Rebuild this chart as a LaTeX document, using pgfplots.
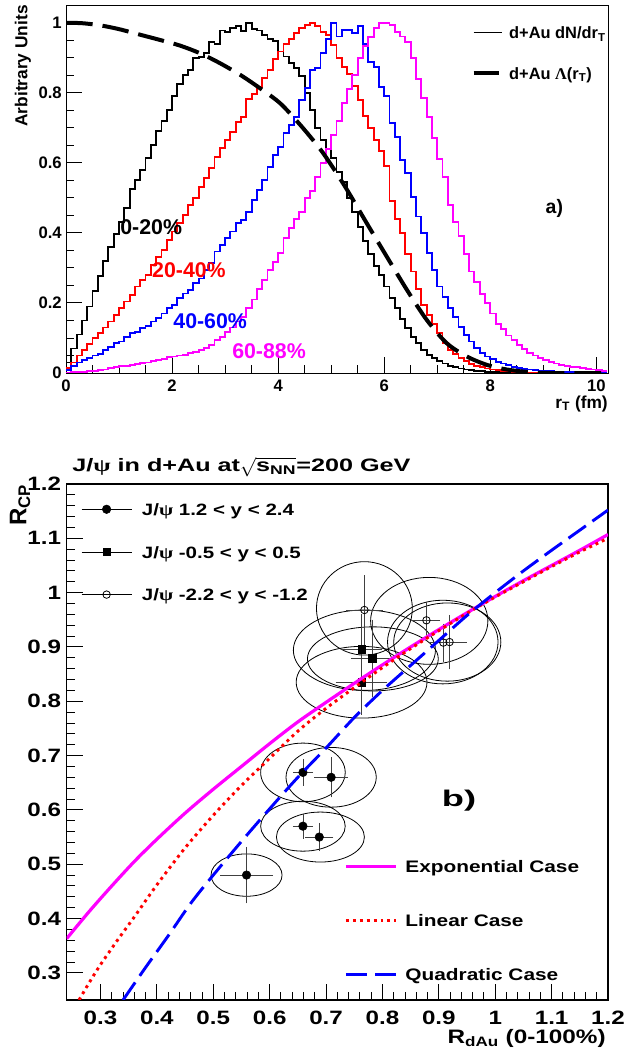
\documentclass[border=0pt]{standalone}
\usepackage{fontspec}
\setmainfont{Liberation Sans}
\newfontfamily\wide{Liberation Sans}[FakeStretch=1.25]
\newfontfamily\wider{Liberation Sans}[FakeStretch=1.4]
\newfontfamily\widest{Liberation Sans}[FakeStretch=1.6]
\newfontfamily\widepsi{Liberation Serif}[FakeStretch=1.25]
\newfontfamily\widerpsi{Liberation Serif}[FakeStretch=1.4]
\usepackage{pgfplots}
\pgfplotsset{compat=1.18}
\usepackage{pgfplotstable}
\definecolor{rmag}{RGB}{255,0,255}
\definecolor{rred}{RGB}{255,0,0}
\definecolor{rblue}{RGB}{0,0,255}

\pgfplotstableread{
x b r bl m
0.0 0.03 0.015 0.008 0.001
0.1 0.07 0.03 0.02 0.002
0.2 0.11 0.05 0.03 0.003
0.3 0.15 0.066 0.038 0.004
0.4 0.19 0.083 0.043 0.005
0.5 0.235 0.1 0.05 0.006
0.6 0.278 0.115 0.055 0.008
0.7 0.32 0.13 0.066 0.01
0.8 0.36 0.147 0.075 0.015
0.9 0.397 0.166 0.085 0.018
1.0 0.432 0.185 0.09 0.02
1.1 0.47 0.204 0.104 0.021
1.2 0.525 0.223 0.113 0.023
1.3 0.55 0.247 0.118 0.025
1.4 0.58 0.266 0.128 0.028
1.5 0.615 0.28 0.135 0.03
1.6 0.65 0.309 0.147 0.033
1.7 0.69 0.332 0.156 0.036
1.8 0.72 0.351 0.17 0.04
1.9 0.75 0.38 0.185 0.045
2.0 0.79 0.404 0.194 0.047
2.1 0.825 0.428 0.213 0.05
2.2 0.85 0.452 0.227 0.052
2.3 0.866 0.48 0.237 0.056
2.4 0.9 0.5 0.256 0.061
2.5 0.902 0.531 0.27 0.065
2.6 0.913 0.556 0.294 0.072
2.7 0.946 0.585 0.315 0.08
2.8 0.94 0.618 0.347 0.095
2.9 0.978 0.642 0.366 0.104
3.0 0.975 0.666 0.385 0.118
3.1 0.985 0.689 0.404 0.13
3.2 0.99 0.718 0.428 0.147
3.3 0.976 0.732 0.437 0.16
3.4 1.0 0.783 0.461 0.185
3.5 0.982 0.797 0.494 0.21
3.6 0.978 0.818 0.523 0.24
3.7 0.966 0.842 0.551 0.266
3.8 0.953 0.866 0.589 0.294
3.9 0.947 0.896 0.623 0.318
4.0 0.918 0.918 0.646 0.342
4.1 0.904 0.94 0.685 0.385
4.2 0.885 0.955 0.708 0.413
4.3 0.87 0.97 0.732 0.44
4.4 0.847 0.985 0.78 0.46
4.5 0.8 0.994 0.813 0.5
4.6 0.75 1.0 0.866 0.52
4.7 0.70 0.99 0.87 0.56
4.8 0.665 0.975 0.913 0.6
4.9 0.64 0.966 0.953 0.64
5.0 0.615 0.937 1.0 0.68
5.1 0.575 0.9 0.961 0.72
5.2 0.545 0.875 0.98 0.77
5.3 0.5 0.855 0.98 0.81
5.4 0.46 0.82 0.97 0.85
5.5 0.418 0.78 0.99 0.9
5.6 0.378 0.735 0.94 0.935
5.7 0.34 0.7 0.889 0.96
5.8 0.305 0.665 0.875 0.985
5.9 0.28 0.635 0.818 1.0
6.0 0.247 0.59 0.79 1.0
6.1 0.215 0.49 0.713 0.994
6.2 0.185 0.44 0.675 0.975
6.3 0.155 0.4 0.609 0.961
6.4 0.128 0.34 0.571 0.945
6.5 0.104 0.29 0.503 0.9
6.6 0.085 0.24 0.447 0.84
6.7 0.066 0.195 0.4 0.785
6.8 0.052 0.165 0.342 0.73
6.9 0.042 0.14 0.294 0.67
7.0 0.033 0.115 0.247 0.61
7.1 0.027 0.085 0.218 0.56
7.2 0.021 0.065 0.185 0.48
7.3 0.017 0.055 0.161 0.43
7.4 0.013 0.043 0.132 0.39
7.5 0.01 0.034 0.109 0.34
7.6 0.008 0.026 0.09 0.29
7.7 0.006 0.02 0.071 0.26
7.8 0.005 0.017 0.057 0.225
7.9 0.004 0.013 0.047 0.2
8.0 0.003 0.01 0.039 0.17
8.1 0.002 0.008 0.032 0.14
8.2 0.002 0.006 0.027 0.125
8.3 0.001 0.005 0.022 0.107
8.4 0.001 0.004 0.017 0.094
8.5 0 0.003 0.014 0.08
8.6 0 0.002 0.012 0.068
8.7 0 0.001 0.01 0.058
8.8 0 0.001 0.009 0.05
8.9 0 0.001 0.007 0.042
9.0 0 0.001 0.006 0.036
9.1 0 0 0.005 0.031
9.2 0 0 0.004 0.027
9.3 0 0 0.003 0.023
9.4 0 0 0.003 0.02
9.5 0 0 0.002 0.018
9.6 0 0 0.002 0.016
9.7 0 0 0.001 0.014
9.8 0 0 0.001 0.012
9.9 0 0 0.001 0.01
10.0 0 0 0.001 0.008
10.1 0 0 0 0.006
10.2 0 0 0 0.006
}\hist

\pgfplotstableread{
x y
0.00 1.000
0.30 0.999
0.64 0.993
1.00 0.982
1.40 0.966
1.80 0.950
2.15 0.935
2.53 0.913
2.90 0.885
3.30 0.850
3.66 0.813
4.04 0.770
4.42 0.708
4.79 0.640
5.04 0.585
5.30 0.523
5.67 0.428
6.05 0.332
6.43 0.237
6.80 0.152
7.18 0.085
7.56 0.047
7.94 0.023
8.31 0.010
8.70 0.003
9.10 0.000
10.2 0.000
}\lambdacurve

\pgfplotstableread{
x y ex ey
0.559 0.480 0.041 0.046
0.659 0.669 0.012 0.018
0.709 0.660 0.024 0.031
0.659 0.570 0.012 0.017
0.688 0.550 0.019 0.020
}\fwd
\pgfplotstableread{
x y ex ey
0.763 0.896 0.031 0.058
0.782 0.879 0.031 0.065
0.763 0.835 0.040 0.054
}\mid
\pgfplotstableread{
x y ex ey
0.768 0.968 0.027 0.058
0.878 0.949 0.019 0.028
0.908 0.908 0.020 0.029
0.919 0.909 0.025 0.044
}\bwd

\pgfplotstableread{
x y
0.24 0.363
0.28 0.413
0.32 0.460
0.36 0.505
0.40 0.546
0.45 0.594
0.50 0.638
0.55 0.680
0.60 0.722
0.65 0.762
0.70 0.798
0.75 0.833
0.80 0.867
0.85 0.900
0.90 0.932
0.95 0.963
1.00 0.993
1.05 1.022
1.10 1.050
1.15 1.078
1.20 1.107
}\expo
\pgfplotstableread{
x y
0.262 0.250
0.28 0.282
0.30 0.315
0.33 0.360
0.36 0.403
0.40 0.462
0.45 0.530
0.50 0.590
0.55 0.645
0.60 0.695
0.65 0.745
0.70 0.787
0.75 0.825
0.80 0.862
0.85 0.897
0.90 0.930
0.95 0.962
1.00 0.992
1.05 1.020
1.10 1.048
1.15 1.075
1.20 1.100
}\lin
\pgfplotstableread{
x y
0.34 0.250
0.38 0.310
0.42 0.368
0.46 0.428
0.50 0.480
0.55 0.542
0.60 0.602
0.65 0.660
0.70 0.714
0.75 0.770
0.80 0.820
0.85 0.866
0.90 0.912
0.95 0.958
1.00 1.000
1.05 1.040
1.10 1.078
1.15 1.115
1.20 1.152
}\quad

\begin{document}
\begin{tikzpicture}
\useasboundingbox (0,0) rectangle (468pt,794.25pt);
% ---------------- top panel ----------------
\begin{axis}[
  at={(49.5pt,514.5pt)}, anchor=south west, scale only axis,
  width=406.5pt, height=276pt,
  xmin=0, xmax=10.22, ymin=0, ymax=1.051,
  clip mode=individual,
  axis line style={line width=0.7pt},
  tick pos=left, tick align=inside,
  major tick length=11.8pt, minor tick length=6pt,
  every tick/.style={black, line width=0.7pt},
  xtick={0,2,4,6,8,10}, xticklabels={0,2,4,6,8,10}, minor x tick num=3,
  ytick={0,0.2,0.4,0.6,0.8,1}, yticklabels={0,0.2,0.4,0.6,0.8,1}, minor y tick num=3,
  /pgf/number format/assume math mode=true,
  tick label style={font=\bfseries\fontsize{12.5}{12.5}\selectfont, inner sep=0pt},
  yticklabel style={xshift=-3pt},
  xticklabel style={yshift=-5pt},
  legend style={at={(rel axis cs:0,1)}, anchor=north west, xshift=301pt, yshift=-14pt,
    draw=none, fill=none, font=\bfseries\fontsize{12.3}{12.3}\selectfont,
    row sep=21pt, cells={anchor=west},
    nodes={inner sep=0pt, text height=9.3pt, text depth=0pt},
    /tikz/every odd column/.append style={column sep=5.25pt}},
]
\addplot[const plot, black, line width=1.4pt, forget plot] table[x=x,y=b] {\hist};
\addplot[const plot, rred, line width=1.4pt, forget plot] table[x=x,y=r] {\hist};
\addplot[const plot, rblue, line width=1.4pt, forget plot] table[x=x,y=bl] {\hist};
\addplot[const plot, rmag, line width=1.4pt, forget plot] table[x=x,y=m] {\hist};
\addplot[black, line width=3pt, smooth, dash pattern=on 20pt off 7.5pt, forget plot] table {\lambdacurve};
\addlegendimage{black, line width=0.9pt, legend image code/.code={\draw[black, line width=0.9pt] (0pt,0pt) -- (21pt,0pt);}}
\addlegendentry{d+Au dN/dr\textsubscript{T}}
\addlegendimage{black, line width=3pt, legend image code/.code={\draw[black, line width=3pt] (0pt,0pt) -- (19pt,0pt);}}
\addlegendentry{d+Au \(\mbox{\fontspec{Liberation Serif}\bfseries Λ}\)(r\textsubscript{T})}
\node[anchor=west, inner sep=0pt, font=\bfseries\fontsize{16}{16}\selectfont, black] at (axis cs:1.02,0.417) {0-20\%};
\node[anchor=west, inner sep=0pt, font=\bfseries\fontsize{16}{16}\selectfont, rred] at (axis cs:1.62,0.294) {20-40\%};
\node[anchor=west, inner sep=0pt, font=\bfseries\fontsize{16}{16}\selectfont, rblue] at (axis cs:2.02,0.149) {40-60\%};
\node[anchor=west, inner sep=0pt, font=\bfseries\fontsize{16}{16}\selectfont, rmag] at (axis cs:3.13,0.061) {60-88\%};
\node[anchor=west, inner sep=0pt, font=\bfseries\fontsize{14.6}{14.6}\selectfont] at (axis cs:9.04,0.471) {a)};
\node[yshift=-23pt, anchor=east, inner sep=0pt, font=\bfseries\fontsize{13}{13}\selectfont] at (rel axis cs:1,0) {r\textsubscript{T} (fm)};
\node[xshift=-32.25pt, rotate=90, anchor=east, inner sep=0pt, font=\bfseries\fontsize{13}{13}\selectfont] at (rel axis cs:0,1) {Arbitrary Units};
\end{axis}
% ---------------- bottom panel ----------------
\begin{axis}[
  at={(50pt,44.25pt)}, anchor=south west, scale only axis,
  width=406pt, height=387pt,
  xmin=0.24, xmax=1.2, ymin=0.25, ymax=1.2,
  clip mode=individual,
  axis line style={line width=0.8pt},
  tick pos=left, tick align=inside,
  major tick length=12pt, minor tick length=6pt,
  every tick/.style={black, line width=0.7pt},
  xtick={0.3,0.4,0.5,0.6,0.7,0.8,0.9,1,1.1,1.2},
  xticklabels={0.3,0.4,0.5,0.6,0.7,0.8,0.9,1,1.1,1.2}, minor x tick num=4,
  ytick={0.3,0.4,0.5,0.6,0.7,0.8,0.9,1,1.1,1.2},
  yticklabels={0.3,0.4,0.5,0.6,0.7,0.8,0.9,1,1.1,1.2}, minor y tick num=4,
  /pgf/number format/assume math mode=true,
  tick label style={font=\wide\bfseries\fontsize{14.5}{14.5}\selectfont, inner sep=0pt},
  yticklabel style={xshift=-4pt},
  xticklabel style={yshift=-8pt},
  legend style={at={(rel axis cs:0,1)}, anchor=north west, xshift=7.7pt, yshift=-12pt,
    draw=none, fill=none, font=\wide\bfseries\fontsize{12.3}{12.3}\selectfont,
    row sep=22.5pt, cells={anchor=west},
    nodes={inner sep=0pt, text height=9.5pt, text depth=0pt},
    /tikz/every odd column/.append style={column sep=7.5pt}},
  legend image code/.code={\draw[black, line width=0.6pt] (0pt,0pt) -- (37.5pt,0pt); \draw plot coordinates {(18.75pt,0pt)};},
]
% ellipses
\draw[black, line width=0.6pt] (axis cs:0.559,0.480) ellipse [x radius=0.063, y radius=0.039];
\draw[black, line width=0.6pt] (axis cs:0.659,0.669) ellipse [x radius=0.075, y radius=0.054];
\draw[black, line width=0.6pt] (axis cs:0.709,0.660) ellipse [x radius=0.080, y radius=0.055];
\draw[black, line width=0.6pt] (axis cs:0.659,0.570) ellipse [x radius=0.075, y radius=0.046];
\draw[black, line width=0.6pt] (axis cs:0.690,0.550) ellipse [x radius=0.078, y radius=0.046];
\draw[black, line width=0.6pt] (axis cs:0.768,0.894) ellipse [x radius=0.126, y radius=0.074];
\draw[black, line width=0.6pt] (axis cs:0.783,0.878) ellipse [x radius=0.116, y radius=0.059];
\draw[black, line width=0.6pt] (axis cs:0.763,0.835) ellipse [x radius=0.116, y radius=0.066];
\draw[black, line width=0.6pt] (axis cs:0.768,0.971) ellipse [x radius=0.085, y radius=0.086];
\draw[black, line width=0.6pt] (axis cs:0.883,0.948) ellipse [x radius=0.104, y radius=0.080];
\draw[black, line width=0.6pt] (axis cs:0.907,0.909) ellipse [x radius=0.098, y radius=0.077];
\draw[black, line width=0.6pt] (axis cs:0.915,0.909) ellipse [x radius=0.095, y radius=0.072];
\addplot[only marks, mark=*, mark size=3.2pt, black,
  error bars/.cd, x dir=both, x explicit, y dir=both, y explicit,
  error bar style={black!75, line width=0.6pt}, error mark options={black!75, line width=0.6pt, mark size=2.5pt}]
  table[x=x, y=y, x error=ex, y error=ey] {\fwd};
\addlegendentry{J/{\widepsi ψ} 1.2 < y < 2.4}
\addplot[only marks, mark=square*, mark size=2.8pt, black,
  error bars/.cd, x dir=both, x explicit, y dir=both, y explicit,
  error bar style={black!75, line width=0.6pt}, error mark options={black!75, line width=0.6pt, mark size=2.5pt}]
  table[x=x, y=y, x error=ex, y error=ey] {\mid};
\addlegendentry{J/{\widepsi ψ} -0.5 < y < 0.5}
\addplot[only marks, mark=o, mark size=2.8pt, black, mark options={fill=white, line width=0.6pt},
  error bars/.cd, x dir=both, x explicit, y dir=both, y explicit,
  error bar style={black!75, line width=0.6pt}, error mark options={black!75, line width=0.6pt, mark size=2.5pt}]
  table[x=x, y=y, x error=ex, y error=ey] {\bwd};
\addlegendentry{J/{\widepsi ψ} -2.2 < y < -1.2}
\node[xshift=4pt, yshift=12.75pt, anchor=west, inner sep=0pt, font=\wider\bfseries\fontsize{13.5}{13.5}\selectfont] at (rel axis cs:0,1) {J/{\widerpsi ψ} in d+Au at\(\sqrt{\mbox{\wider\bfseries s\textsubscript{NN}}}\)=200 GeV};
\node[anchor=west, inner sep=0pt, font=\widest\bfseries\fontsize{17}{17}\selectfont] at (axis cs:0.905,0.617) {b)};
\node[xshift=-1.5pt, yshift=-28.5pt, anchor=east, inner sep=0pt, font=\wide\bfseries\fontsize{14.6}{14.6}\selectfont] at (rel axis cs:1,0) {R\textsubscript{dAu} (0-100\%)};
\node[xshift=-35pt, rotate=90, anchor=east, inner sep=0pt, font=\bfseries\fontsize{18}{18}\selectfont] at (rel axis cs:0,1) {R\textsubscript{CP}};
\end{axis}
\begin{axis}[
  at={(50pt,44.25pt)}, anchor=south west, scale only axis,
  width=406pt, height=387pt,
  xmin=0.24, xmax=1.2, ymin=0.25, ymax=1.2, hide axis,
  clip mode=individual,
  legend style={at={(rel axis cs:0,1)}, anchor=north west, xshift=205pt, yshift=-280pt,
    draw=none, fill=none, font=\wide\bfseries\fontsize{12.5}{12.5}\selectfont,
    row sep=31.5pt, cells={anchor=west},
    nodes={inner sep=0pt, text height=9pt, text depth=0pt},
    /tikz/every odd column/.append style={column sep=6pt}},
  legend image code/.code={\draw[#1] (0pt,0pt) -- (37.5pt,0pt);},
]
\addplot[rmag, line width=2.4pt, smooth] table {\expo};
\addlegendentry{Exponential Case}
\addplot[rred, line width=2.2pt, smooth, dash pattern=on 2.2pt off 3pt] table {\lin};
\addlegendentry{Linear Case}
\addplot[rblue, line width=2.2pt, smooth, dash pattern=on 16pt off 6pt] table {\quad};
\addlegendentry{Quadratic Case}
\end{axis}
\end{tikzpicture}
\end{document}
